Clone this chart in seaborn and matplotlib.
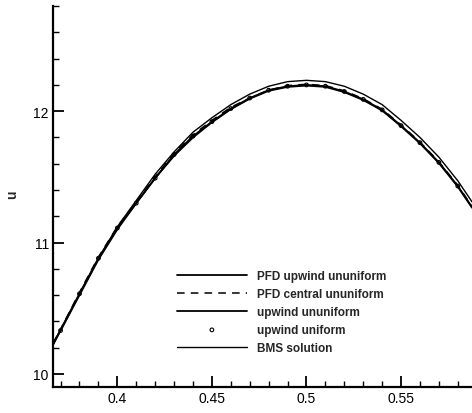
import matplotlib
matplotlib.use("Agg")
import matplotlib.pyplot as plt
from matplotlib.ticker import MultipleLocator, FixedLocator
import seaborn as sns
import pandas as pd

# ---- data ----
x_line = [0.366, 0.37, 0.38, 0.39, 0.40, 0.41, 0.42, 0.43, 0.44, 0.45, 0.46, 0.47,
          0.48, 0.49, 0.50, 0.51, 0.52, 0.53, 0.54, 0.55, 0.56, 0.57, 0.58, 0.5875]
bms_solution = [10.23, 10.34, 10.61, 10.88, 11.12, 11.32, 11.52, 11.69, 11.84, 11.95,
                12.05, 12.13, 12.19, 12.225, 12.235, 12.225, 12.19, 12.13, 12.05, 11.93,
                11.80, 11.65, 11.47, 11.31]
pfd_upwind = [10.23, 10.33, 10.61, 10.88, 11.11, 11.30, 11.49, 11.67, 11.81, 11.92,
              12.02, 12.10, 12.16, 12.19, 12.20, 12.19, 12.15, 12.09, 12.01, 11.89,
              11.76, 11.61, 11.43, 11.27]
pfd_central = [10.23, 10.34, 10.62, 10.89, 11.12, 11.31, 11.50, 11.68, 11.82, 11.93,
               12.03, 12.10, 12.16, 12.195, 12.205, 12.195, 12.155, 12.095, 12.015, 11.895,
               11.765, 11.615, 11.435, 11.275]
upwind_ununiform = [10.22, 10.33, 10.60, 10.87, 11.10, 11.30, 11.49, 11.66, 11.80, 11.915,
                    12.015, 12.095, 12.155, 12.185, 12.195, 12.185, 12.145, 12.085, 12.005, 11.885,
                    11.755, 11.605, 11.425, 11.265]
x_pts = [0.37, 0.38, 0.39, 0.40, 0.41, 0.42, 0.43, 0.44, 0.45, 0.46, 0.47, 0.48,
         0.49, 0.50, 0.51, 0.52, 0.53, 0.54, 0.55, 0.56, 0.57, 0.58]
upwind_uniform = [10.33, 10.61, 10.88, 11.11, 11.30, 11.49, 11.67, 11.81, 11.92, 12.02,
                  12.10, 12.16, 12.19, 12.20, 12.19, 12.15, 12.09, 12.01, 11.89, 11.76,
                  11.61, 11.43]
x_ticks = [0.40, 0.45, 0.50, 0.55]
x_ticklabels = ["0.4", "0.45", "0.5", "0.55"]
y_ticks = [10, 11, 12]
y_ticklabels = ["10", "11", "12"]

sns.set_theme(style="ticks")
plt.rcParams["font.family"] = ["Liberation Sans", "DejaVu Sans"]

fig = plt.figure(figsize=(4.72, 4.14), dpi=100)
ax = fig.add_axes([0.1123, 0.0628, 0.8877, 0.920])

sns.lineplot(x=x_line, y=pfd_upwind, ax=ax, color="black", lw=1.3,
             label="PFD upwind ununiform", estimator=None, sort=False)
sns.lineplot(x=x_line, y=pfd_central, ax=ax, color="black", lw=1.1,
             linestyle=(0, (5, 4)), label="PFD central ununiform", estimator=None, sort=False)
sns.lineplot(x=x_line, y=upwind_ununiform, ax=ax, color="black", lw=1.3,
             label="upwind ununiform", estimator=None, sort=False)
sns.scatterplot(x=x_pts, y=upwind_uniform, ax=ax, marker="o", s=7,
                facecolor="none", edgecolor="black", linewidth=0.8,
                label="upwind uniform", zorder=5)
sns.lineplot(x=x_line, y=bms_solution, ax=ax, color="black", lw=1.0,
             label="BMS solution", estimator=None, sort=False)

ax.set_xlim(0.366, 0.5875)
ax.set_ylim(9.90, 12.80)

ax.xaxis.set_major_locator(FixedLocator(x_ticks))
ax.set_xticklabels(x_ticklabels)
ax.xaxis.set_minor_locator(MultipleLocator(0.01))
ax.yaxis.set_major_locator(FixedLocator(y_ticks))
ax.set_yticklabels(y_ticklabels)
ax.yaxis.set_minor_locator(MultipleLocator(0.2))

ax.tick_params(axis="both", which="major", direction="in", length=8, width=1.3,
               labelsize=10, colors="black", pad=3)
ax.tick_params(axis="both", which="minor", direction="in", length=4, width=1.0, colors="black")

for s in ["top", "right"]:
    ax.spines[s].set_visible(False)
for s in ["left", "bottom"]:
    ax.spines[s].set_linewidth(1.6)
    ax.spines[s].set_color("black")

ax.set_xlabel("")
ax.set_ylabel("u", fontsize=10, fontweight="bold")
ax.yaxis.set_label_coords(-0.082, 0.507)

leg = ax.legend(loc="upper left", bbox_to_anchor=(0.282, 0.322), frameon=False,
                prop={"weight": "bold", "size": 8.5}, handlelength=5.9,
                handletextpad=0.9, labelspacing=0.5, borderpad=0)

fig.savefig("out.png", dpi=100)
